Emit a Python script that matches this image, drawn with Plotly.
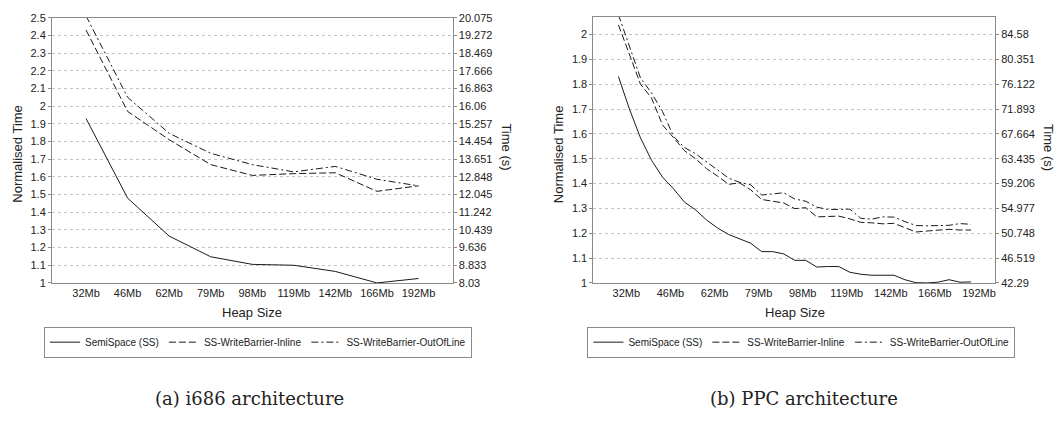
import plotly.graph_objects as go

# ---------------- data ----------------
heap_sizes = ["32Mb", "46Mb", "62Mb", "79Mb", "98Mb", "119Mb", "142Mb", "166Mb", "192Mb"]

# (a) i686 architecture - normalised time
i686_semispace = [1.93, 1.48, 1.265, 1.148, 1.105, 1.10, 1.065, 1.0, 1.025]
i686_inline = [2.43, 1.97, 1.81, 1.669, 1.608, 1.618, 1.623, 1.518, 1.549]
i686_outofline = [2.51, 2.05, 1.846, 1.733, 1.669, 1.628, 1.659, 1.586, 1.549]
i686_time_ticks = ["8.03", "8.833", "9.636", "10.439", "11.242", "12.045", "12.848", "13.651",
                   "14.454", "15.257", "16.06", "16.863", "17.666", "18.469", "19.272", "20.075"]

# (b) PPC architecture - normalised time (33 heap sizes, labelled every 4th)
ppc_semispace = [1.831, 1.70, 1.584, 1.494, 1.426, 1.379, 1.325, 1.294, 1.253, 1.221, 1.195,
                 1.178, 1.16, 1.126, 1.126, 1.117, 1.091, 1.091, 1.064, 1.066, 1.066, 1.043,
                 1.035, 1.031, 1.032, 1.031, 1.013, 1.001, 1.0, 1.003, 1.013, 1.003, 1.004]
ppc_inline = [2.039, 1.92, 1.80, 1.745, 1.636, 1.585, 1.532, 1.50, 1.46, 1.43, 1.397,
              1.403, 1.375, 1.336, 1.330, 1.322, 1.299, 1.303, 1.266, 1.269, 1.269, 1.258,
              1.244, 1.242, 1.238, 1.240, 1.223, 1.205, 1.209, 1.212, 1.216, 1.213, 1.213]
ppc_outofline = [2.08, 1.95, 1.825, 1.765, 1.69, 1.59, 1.545, 1.52, 1.487, 1.455, 1.422,
                 1.405, 1.395, 1.354, 1.357, 1.363, 1.338, 1.329, 1.305, 1.296, 1.296, 1.297,
                 1.26, 1.257, 1.266, 1.265, 1.247, 1.231, 1.23, 1.232, 1.232, 1.239, 1.236]
ppc_time_ticks = ["42.29", "46.519", "50.748", "54.977", "59.206", "63.435", "67.664",
                  "71.893", "76.122", "80.351", "84.58"]

series_names = ["SemiSpace (SS)", "SS-WriteBarrier-Inline", "SS-WriteBarrier-OutOfLine"]

# ---------------- styling ----------------
W, H = 1058, 424
FONT = "Liberation Sans, Arial, sans-serif"
LINE_COL = "#1a1a1a"
AXIS_COL = "#8a8a8a"
GRID_COL = "#c4c4c4"
dashes = ["solid", "7px,3px", "7px,3px,2px,3px"]

fig = go.Figure()

# left chart traces
for name, vals, d in zip(series_names, [i686_semispace, i686_inline, i686_outofline], dashes):
    fig.add_trace(go.Scatter(x=list(range(len(heap_sizes))), y=vals, mode="lines", name=name,
                             line=dict(color=LINE_COL, width=1, dash=d),
                             xaxis="x", yaxis="y", legend="legend"))
# invisible trace to activate right axis of left chart
fig.add_trace(go.Scatter(x=list(range(len(heap_sizes))), y=i686_semispace, mode="lines",
                         line=dict(color="rgba(0,0,0,0)"), showlegend=False, hoverinfo="skip",
                         xaxis="x", yaxis="y2"))

# right chart traces
n_ppc = len(ppc_semispace)
for name, vals, d in zip(series_names, [ppc_semispace, ppc_inline, ppc_outofline], dashes):
    fig.add_trace(go.Scatter(x=list(range(n_ppc)), y=vals, mode="lines", name=name,
                             line=dict(color=LINE_COL, width=1, dash=d),
                             xaxis="x2", yaxis="y3", legend="legend2"))
fig.add_trace(go.Scatter(x=list(range(n_ppc)), y=ppc_semispace, mode="lines",
                         line=dict(color="rgba(0,0,0,0)"), showlegend=False, hoverinfo="skip",
                         xaxis="x2", yaxis="y4"))

tickfont = dict(family=FONT, size=11, color="#222")

i686_tickvals = [round(1 + 0.1 * k, 2) for k in range(len(i686_time_ticks))]
ppc_tickvals = [round(1 + 0.1 * k, 2) for k in range(len(ppc_time_ticks))]
step = 4
ppc_label_pos = [k * step + 0.72 for k in range(len(heap_sizes))]

yl = (1 - 285 / H, 1 - 12 / H)
yr = (1 - 285 / H, 1 - 11 / H)

fig.update_layout(
    width=W, height=H, margin=dict(l=0, r=0, t=0, b=0),
    paper_bgcolor="white", plot_bgcolor="white",
    font=dict(family=FONT, size=11, color="#222"),
    xaxis=dict(domain=[52 / W, 453 / W], range=[-0.82, 8.82],
               tickvals=list(range(len(heap_sizes))), ticktext=heap_sizes,
               showline=True, linecolor=AXIS_COL, linewidth=1, mirror=True,
               showgrid=False, zeroline=False, ticks="", tickfont=tickfont, anchor="y"),
    yaxis=dict(domain=list(yl), range=[1, 2.5], dtick=0.1, tickformat="~g",
               showline=True, linecolor=AXIS_COL, linewidth=1,
               showgrid=True, gridcolor=GRID_COL, griddash="dot", gridwidth=1,
               zeroline=False, ticks="outside", ticklen=3, tickcolor=AXIS_COL,
               tickfont=tickfont, anchor="x"),
    yaxis2=dict(overlaying="y", side="right", anchor="x", range=[1, 2.5],
                tickvals=i686_tickvals, ticktext=i686_time_ticks,
                showline=True, linecolor=AXIS_COL, linewidth=1, showgrid=False,
                zeroline=False, ticks="outside", ticklen=3, tickcolor=AXIS_COL,
                tickfont=tickfont),
    xaxis2=dict(domain=[594 / W, 996 / W], range=[-2.27, 34.18],
                tickvals=ppc_label_pos, ticktext=heap_sizes,
                showline=True, linecolor=AXIS_COL, linewidth=1, mirror=True,
                showgrid=False, zeroline=False, ticks="", tickfont=tickfont, anchor="y3"),
    yaxis3=dict(domain=list(yr), range=[1, 2.072], dtick=0.1, tickformat="~g",
                showline=True, linecolor=AXIS_COL, linewidth=1,
                showgrid=True, gridcolor=GRID_COL, griddash="dot", gridwidth=1,
                zeroline=False, ticks="outside", ticklen=3, tickcolor=AXIS_COL,
                tickfont=tickfont, anchor="x2"),
    yaxis4=dict(overlaying="y3", side="right", anchor="x2", range=[1, 2.072],
                tickvals=ppc_tickvals, ticktext=ppc_time_ticks,
                showline=True, linecolor=AXIS_COL, linewidth=1, showgrid=False,
                zeroline=False, ticks="outside", ticklen=3, tickcolor=AXIS_COL,
                tickfont=tickfont),
    legend=dict(orientation="h", x=44 / W, y=1 - 330 / H, xanchor="left", yanchor="top",
                bordercolor=AXIS_COL, borderwidth=1, bgcolor="white",
                font=dict(family=FONT, size=10, color="#222"), itemwidth=30,
                tracegroupgap=0),
    legend2=dict(orientation="h", x=588 / W, y=1 - 330 / H, xanchor="left", yanchor="top",
                 bordercolor=AXIS_COL, borderwidth=1, bgcolor="white",
                 font=dict(family=FONT, size=10, color="#222"), itemwidth=30,
                 tracegroupgap=0),
    showlegend=True,
)

title_font = dict(family=FONT, size=13, color="#222")
ann = [
    dict(text="Normalised Time", x=18 / W, y=1 - 152 / H, textangle=-90, font=title_font),
    dict(text="Time (s)", x=507 / W, y=1 - 145 / H, textangle=90, font=title_font),
    dict(text="Heap Size", x=252 / W, y=1 - 315 / H, font=title_font),
    dict(text="Normalised Time", x=559 / W, y=1 - 152 / H, textangle=-90, font=title_font),
    dict(text="Time (s)", x=1049 / W, y=1 - 145 / H, textangle=90, font=title_font),
    dict(text="Heap Size", x=796 / W, y=1 - 315 / H, font=title_font),
    dict(text="(a) i686 architecture", x=250 / W, y=1 - 404 / H,
         font=dict(family="DejaVu Serif, serif", size=18, color="#222")),
    dict(text="(b) PPC architecture", x=805 / W, y=1 - 404 / H,
         font=dict(family="DejaVu Serif, serif", size=18, color="#222")),
]
for a in ann:
    a.update(xref="paper", yref="paper", showarrow=False, xanchor="center", yanchor="middle")
fig.update_layout(annotations=ann)

fig.write_html("out.html")
